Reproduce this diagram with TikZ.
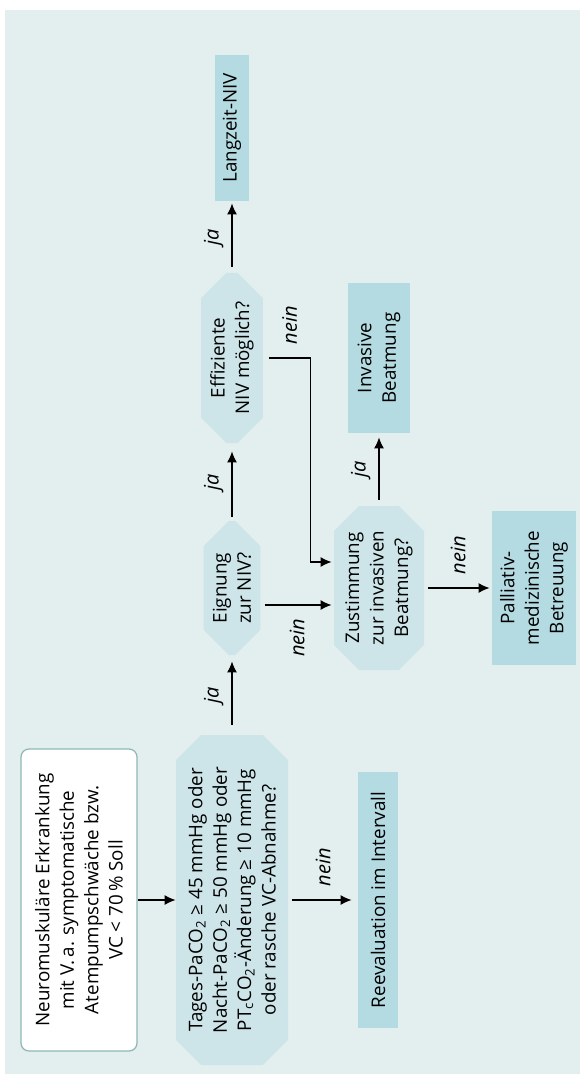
\documentclass[tikz,border=0pt]{standalone}
\usepackage{fontspec}
\setmainfont{Open Sans}
\usepackage{tikz}
\usetikzlibrary{arrows.meta,shapes.misc}

\definecolor{bgpale}{HTML}{E3EEEE}
\definecolor{boxblue}{HTML}{B4DAE2}
\definecolor{askblue}{HTML}{CDE5E9}
\definecolor{startline}{HTML}{8DB7B7}

\tikzset{
  startbox/.style={rotate=90, draw=startline, line width=0.6pt, fill=white, rounded corners=4pt,
    align=center, minimum width=151pt, minimum height=58pt, inner sep=2pt},
  endbox/.style={rotate=90, fill=boxblue, align=center, inner sep=2pt},
  askbox/.style={rotate=90, chamfered rectangle, chamfered rectangle xsep=9pt, fill=askblue,
    align=center, inner sep=1pt},
  lbl/.style={rotate=90, font=\itshape, inner sep=4pt, inner xsep=6.5pt},
  arr/.style={-{Latex[length=5.5pt,width=5pt]}, line width=0.65pt},
}

\begin{document}
\begin{tikzpicture}[x=0.5pt, y=-0.5pt, font=\fontsize{9.4}{12.2}\selectfont]
  \useasboundingbox (0,0) rectangle (587,1079);
  \fill[white] (0,0) rectangle (587,1079);
  \fill[bgpale] (5,10) rectangle (580,1074);

  \node[startbox] (start) at (79,900)
    {Neuromuskuläre Erkrankung\\mit V.\,a. symptomatische\\Atempumpschwäche bzw.\\VC < 70\,\% Soll};
  \node[askbox, minimum width=165pt, minimum height=56pt] (tages) at (232,900)
    {Tages-PaCO\textsubscript{2} ≥ 45 mmHg oder\\Nacht-PaCO\textsubscript{2} ≥ 50 mmHg oder\\PT\textsubscript{c}CO\textsubscript{2}-Änderung ≥ 10 mmHg\\oder rasche VC-Abnahme?};
  \node[endbox, minimum width=128pt, minimum height=20pt] (reeval) at (378,900) {Reevaluation im Intervall};

  \node[askbox, minimum width=67pt, minimum height=28pt] (eignung) at (232,588) {Eignung\\zur NIV?};
  \node[askbox, minimum width=85pt, minimum height=28pt] (effizient) at (232,358) {Effiziente\\NIV möglich?};
  \node[endbox, minimum width=73pt, minimum height=17pt] (langzeit) at (232,128) {Langzeit-NIV};

  \node[askbox, minimum width=82pt, minimum height=45pt] (zustimmung) at (379,588)
    {Zustimmung\\zur invasiven\\Beatmung?};
  \node[endbox, minimum width=75pt, minimum height=31pt] (invasiv) at (379,358) {Invasive\\Beatmung};
  \node[endbox, minimum width=77pt, minimum height=42pt] (palliativ) at (534,588)
    {Palliativ-\\medizinische\\Betreuung};

  % start -> tages
  \draw[arr] (start.south) -- (tages.north);

  % tages -> eignung (ja), tages -> reeval (nein)
  \draw[arr, shorten <=5pt, shorten >=3pt] (tages.east) -- node[lbl, anchor=south] {ja} (eignung.west);
  \draw[arr, shorten <=2pt, shorten >=3pt] (tages.south) -- node[lbl, anchor=west] {nein} (reeval.north);

  % eignung -> effizient (ja), eignung -> zustimmung (nein)
  \draw[arr, shorten <=2pt, shorten >=4pt] (eignung.east) -- node[lbl, anchor=south] {ja} (effizient.west);
  \draw[arr, shorten <=2pt, shorten >=1pt] ([yshift=-8.5pt]eignung.south) -- node[lbl, anchor=east] {nein} ([yshift=-8.5pt]zustimmung.north);

  % effizient -> langzeit (ja), effizient -> zustimmung (nein)
  \draw[arr, shorten <=3pt, shorten >=1pt] (effizient.east) -- node[lbl, anchor=south] {ja} (langzeit.west);
  \draw[arr, shorten >=1pt] ([xshift=3pt]effizient.south) -- node[lbl, anchor=west] {nein} ++(41,0)
    |- ([yshift=13pt]zustimmung.north);

  % zustimmung -> invasiv (ja), zustimmung -> palliativ (nein)
  \draw[arr, shorten <=3pt, shorten >=2pt] (zustimmung.east) -- node[lbl, anchor=south] {ja} (invasiv.west);
  \draw[arr, shorten <=2pt, shorten >=1pt] (zustimmung.south) -- node[lbl, anchor=west] {nein} (palliativ.north);
\end{tikzpicture}
\end{document}
